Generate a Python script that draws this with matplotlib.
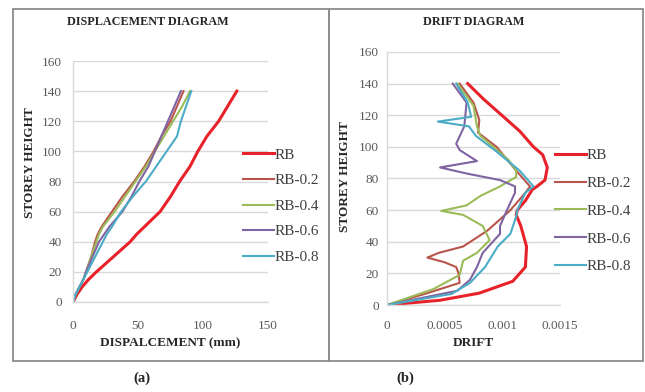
import matplotlib
matplotlib.use("Agg")
from matplotlib import pyplot as plt
from matplotlib.patches import Rectangle

# ---- data ----
series_names = ["RB", "RB-0.2", "RB-0.4", "RB-0.6", "RB-0.8"]
series_colors = ["#E8222A", "#B8554B", "#9BBB59", "#8064A2", "#4BACC6"]

# displacement diagram (storey height vs displacement, mm)
disp_height = [0, 5, 10, 15, 20, 30, 40, 45, 50, 60, 70, 80, 90, 100, 110, 120, 130, 140]
disp_rb = [0, 3, 7, 12, 18, 31, 44, 49, 55, 67, 75, 82, 90, 96, 103, 112, 119, 126]
disp_rb02 = [0, 2, 5, 8, 10, 14, 17, 19, 22, 30, 38, 47, 55, 62, 68, 75, 80, 85]
disp_rb04 = [0, 2, 5, 8, 10, 14, 18, 20, 23, 32, 40, 48, 56, 63, 70, 77, 84, 90]
disp_rb06 = [0, 2, 5, 8, 10, 15, 20, 24, 28, 38, 45, 51, 58, 63, 68, 73, 78, 83]
disp_rb08 = [0, 2, 5, 8, 11, 17, 23, 26, 30, 37, 46, 56, 64, 72, 80, 83, 87, 91]

# drift diagram (storey height vs drift)
drift_h_rb = [0, 3, 7.5, 15, 24, 37, 50, 57, 60, 66, 73, 75, 79, 87, 95, 100, 110, 121, 130, 140]
drift_rb = [0, 4.6e-4, 8.0e-4, 10.9e-4, 12.0e-4, 12.1e-4, 11.6e-4, 11.2e-4, 11.3e-4, 12.0e-4,
            12.6e-4, 13.0e-4, 13.7e-4, 13.9e-4, 13.5e-4, 12.7e-4, 11.5e-4, 9.8e-4, 8.4e-4, 7.0e-4]
drift_h_rb02 = [0, 7.5, 14, 20, 24, 27, 30, 33, 37, 47, 60, 71, 75, 85, 100, 109, 117, 128, 140]
drift_rb02 = [0, 3.5e-4, 6.3e-4, 6.2e-4, 6.0e-4, 5.0e-4, 3.5e-4, 4.5e-4, 6.6e-4, 8.7e-4,
              10.7e-4, 12.0e-4, 12.4e-4, 11.2e-4, 9.5e-4, 7.9e-4, 8.0e-4, 7.5e-4, 6.3e-4]
drift_h_rb04 = [0, 10, 19, 28, 33, 41, 50, 57, 59.5, 63, 69, 75, 81, 85, 92, 107, 113, 126, 140]
drift_rb04 = [0, 4.0e-4, 6.3e-4, 6.6e-4, 7.8e-4, 8.9e-4, 8.3e-4, 6.6e-4, 4.7e-4, 6.9e-4,
              8.1e-4, 9.8e-4, 11.2e-4, 11.2e-4, 10.5e-4, 8.1e-4, 7.8e-4, 7.5e-4, 6.1e-4]
drift_h_rb06 = [0, 9, 16, 24, 33, 41, 45, 50, 60, 71, 75, 79, 83, 87, 91, 98, 102, 113, 128, 140]
drift_rb06 = [0, 6.1e-4, 7.2e-4, 7.8e-4, 8.3e-4, 9.3e-4, 9.8e-4, 9.8e-4, 10.4e-4, 11.1e-4,
              11.1e-4, 9.8e-4, 7.0e-4, 4.6e-4, 7.8e-4, 6.3e-4, 6.0e-4, 6.7e-4, 6.9e-4, 5.7e-4]
drift_h_rb08 = [0, 7, 14, 24, 37, 45, 56, 60, 71, 75, 85, 97, 107, 113, 116, 119, 128, 140]
drift_rb08 = [0, 5.6e-4, 7.2e-4, 8.5e-4, 9.6e-4, 10.7e-4, 11.2e-4, 11.3e-4, 12.0e-4, 12.7e-4,
              11.5e-4, 9.5e-4, 7.7e-4, 7.1e-4, 4.4e-4, 7.3e-4, 7.0e-4, 6.0e-4]

disp_ticks = [0, 50, 100, 150]
drift_ticks = [0, 0.0005, 0.001, 0.0015]
drift_tick_labels = ["0", "0.0005", "0.001", "0.0015"]
height_ticks = [0, 20, 40, 60, 80, 100, 120, 140, 160]

W, H = 645, 392
SERIF = ["Liberation Serif", "DejaVu Serif"]
TICK_COLOR = "#595959"
TEXT_COLOR = "#262626"
GRID_COLOR = "#D9D9D9"


def px_box(x0, y0, x1, y1):
    """Pixel box (top-left origin) -> figure fraction [left, bottom, width, height]"""
    return [x0 / W, 1 - y1 / H, (x1 - x0) / W, (y1 - y0) / H]


def style_axis(ax, xlim, xticks, xticklabels, xpad, ypad):
    ax.set_xlim(*xlim)
    ax.set_ylim(0, 160)
    ax.set_xticks(xticks)
    ax.set_xticklabels(xticklabels)
    ax.set_yticks(height_ticks)
    ax.grid(axis="y", color=GRID_COLOR, linewidth=1.0)
    ax.set_axisbelow(True)
    for side in ["top", "right"]:
        ax.spines[side].set_visible(False)
    for side in ["left", "bottom"]:
        ax.spines[side].set_color(GRID_COLOR)
        ax.spines[side].set_linewidth(1.0)
    ax.tick_params(length=0, labelsize=9.5, labelcolor=TICK_COLOR)
    ax.tick_params(axis="x", pad=xpad)
    ax.tick_params(axis="y", pad=ypad)
    for lab in ax.get_xticklabels() + ax.get_yticklabels():
        lab.set_family(SERIF)


fig = plt.figure(figsize=(W / 100, H / 100), dpi=100)

# panel frames
for x0, x1 in [(13, 329), (329, 643)]:
    b = px_box(x0, 9, x1, 361)
    fig.add_artist(Rectangle((b[0], b[1]), b[2], b[3], transform=fig.transFigure,
                             fill=False, edgecolor="#8C8C8C", linewidth=1.3))

# ---- (a) displacement ----
ax1 = fig.add_axes(px_box(73, 61, 268, 302))
disp_series = [disp_rb, disp_rb02, disp_rb04, disp_rb06, disp_rb08]
for name, color, vals in zip(series_names, series_colors, disp_series):
    ax1.plot(vals, disp_height, color=color, linewidth=2.2 if name == "RB" else 1.5,
             label=name, solid_joinstyle="round")
style_axis(ax1, (0, 150), disp_ticks, [str(t) for t in disp_ticks], xpad=13, ypad=8)
ax1.legend(loc="center left", bbox_to_anchor=(243 / W, 1 - 206 / H),
           bbox_transform=fig.transFigure, frameon=False, borderpad=0, borderaxespad=0,
           handlelength=2.0, handletextpad=0.05, labelspacing=0.78,
           prop={"family": SERIF, "size": 11}, labelcolor="#404040")

# ---- (b) drift ----
ax2 = fig.add_axes(px_box(387, 52, 560, 305))
drift_series = [(drift_rb, drift_h_rb), (drift_rb02, drift_h_rb02), (drift_rb04, drift_h_rb04),
                (drift_rb06, drift_h_rb06), (drift_rb08, drift_h_rb08)]
for name, color, (vals, hts) in zip(series_names, series_colors, drift_series):
    ax2.plot(vals, hts, color=color, linewidth=2.2 if name == "RB" else 1.5,
             label=name, solid_joinstyle="round")
style_axis(ax2, (0, 0.0015), drift_ticks, drift_tick_labels, xpad=11, ypad=6)
ax2.legend(loc="center left", bbox_to_anchor=(555 / W, 1 - 211 / H),
           bbox_transform=fig.transFigure, frameon=False, borderpad=0, borderaxespad=0,
           handlelength=2.0, handletextpad=0.05, labelspacing=0.92,
           prop={"family": SERIF, "size": 11}, labelcolor="#404040")

# titles and axis labels
bold = dict(family=SERIF, weight="bold", size=8.7, color=TEXT_COLOR, ha="center", va="center")
fig.text(148 / W, 1 - 22 / H, "DISPLACEMENT DIAGRAM", **bold)
fig.text(474 / W, 1 - 22 / H, "DRIFT DIAGRAM", **bold)
bold["size"] = 9.5
fig.text(170 / W, 1 - 343 / H, "DISPALCEMENT (mm)", **bold)
fig.text(473 / W, 1 - 343 / H, "DRIFT", **bold)
fig.text(30 / W, 1 - 163 / H, "STOREY HEIGHT", rotation=90, **bold)
fig.text(345 / W, 1 - 177 / H, "STOREY HEIGHT", rotation=90, **bold)

# panel captions
bold["size"] = 10.5
fig.text(142 / W, 1 - 378 / H, "(a)", **bold)
fig.text(405 / W, 1 - 378 / H, "(b)", **bold)

fig.savefig("out.png", dpi=100)
